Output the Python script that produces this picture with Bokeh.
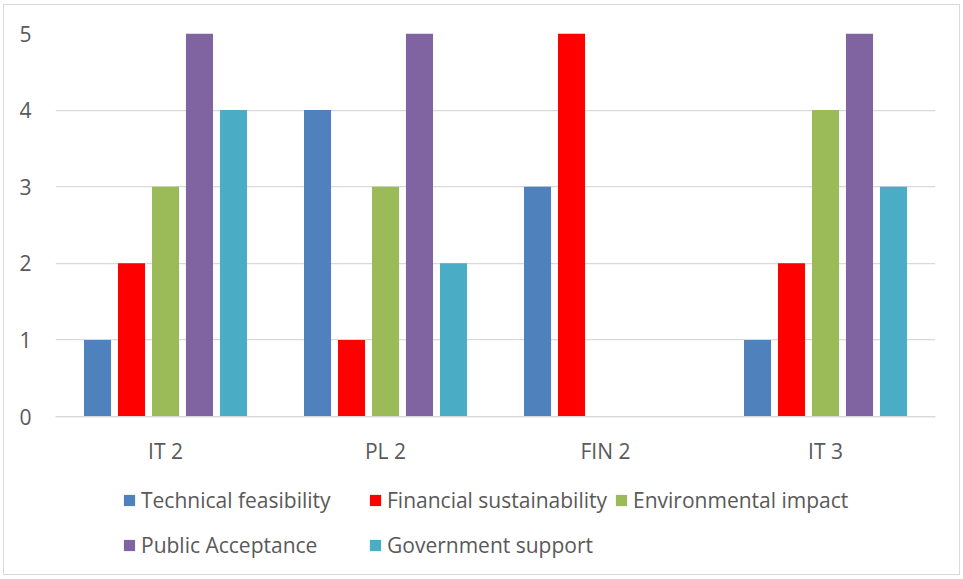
from bokeh.plotting import figure
from bokeh.models import ColumnDataSource, Legend, LegendItem, FactorRange
from bokeh.transform import dodge
from bokeh.embed import file_html
from bokeh.resources import INLINE

categories = ["IT 2", "PL 2", "FIN 2", "IT 3"]
series_names = ["Technical feasibility", "Financial sustainability", "Environmental impact",
                "Public Acceptance", "Government support"]
technical = [1, 4, 3, 1]
financial = [2, 1, 5, 2]
environmental = [3, 3, 0, 4]
public = [5, 5, 0, 5]
government = [4, 2, 0, 3]
colors = ["#4F81BD", "#FF0000", "#9BBB59", "#8064A2", "#4BACC6"]
y_ticks = [0, 1, 2, 3, 4, 5]

FONT = "Open Sans"
TXT = "#595959"
FS = "21px"

# layout geometry (pixels)
H = 571
MB_TOP = 28
MB_BOTTOM = 0
BAR_AREA = 383  # pixels from value 0 to value 5
frame_h = H - MB_TOP - MB_BOTTOM
y_start = -5 * (frame_h - BAR_AREA) / BAR_AREA

src = ColumnDataSource(dict(cat=categories, s0=technical, s1=financial, s2=environmental,
                            s3=public, s4=government))

p = figure(width=957, height=H, x_range=FactorRange(*categories, range_padding=0),
           y_range=(y_start, 5), output_backend="svg", toolbar_location=None,
           min_border_left=51, min_border_right=26, min_border_top=MB_TOP,
           min_border_bottom=MB_BOTTOM)
p.outline_line_color = None
p.styles = {"border": "1px solid #d9d9d9", "margin-left": "3px", "margin-top": "4px"}

step = 0.1545
renderers = []
for i, key in enumerate(["s0", "s1", "s2", "s3", "s4"]):
    r = p.vbar(x=dodge("cat", (i - 2) * step, range=p.x_range), top=key, width=0.123,
               source=src, fill_color=colors[i], line_color=None)
    renderers.append(r)

p.xgrid.grid_line_color = None
p.ygrid.grid_line_color = "#d9d9d9"
p.ygrid.grid_line_width = 1.25
p.yaxis.ticker = y_ticks
p.yaxis.axis_line_color = None
p.yaxis.major_tick_line_color = None
p.yaxis.minor_tick_line_color = None
p.yaxis.major_label_standoff = 18
p.xaxis.fixed_location = 0
p.xaxis.axis_line_color = "#d9d9d9"
p.xaxis.axis_line_width = 1.25
p.xaxis.major_tick_line_color = None
p.xaxis.major_label_standoff = 14
for ax in (p.xaxis[0], p.yaxis[0]):
    ax.major_label_text_font = FONT
    ax.major_label_text_font_size = FS
    ax.major_label_text_color = TXT

legend = Legend(items=[LegendItem(label=n, renderers=[r]) for n, r in zip(series_names, renderers)],
                location=(67, 12), orientation="horizontal", ncols=3,
                glyph_width=14, glyph_height=14, label_standoff=5, label_width=220,
                label_height=38, spacing=7, padding=0, margin=0,
                border_line_color=None, background_fill_alpha=0,
                label_text_font=FONT, label_text_font_size=FS, label_text_color=TXT)
p.add_layout(legend, "center")

open("out.html", "w").write(file_html(p, INLINE))
